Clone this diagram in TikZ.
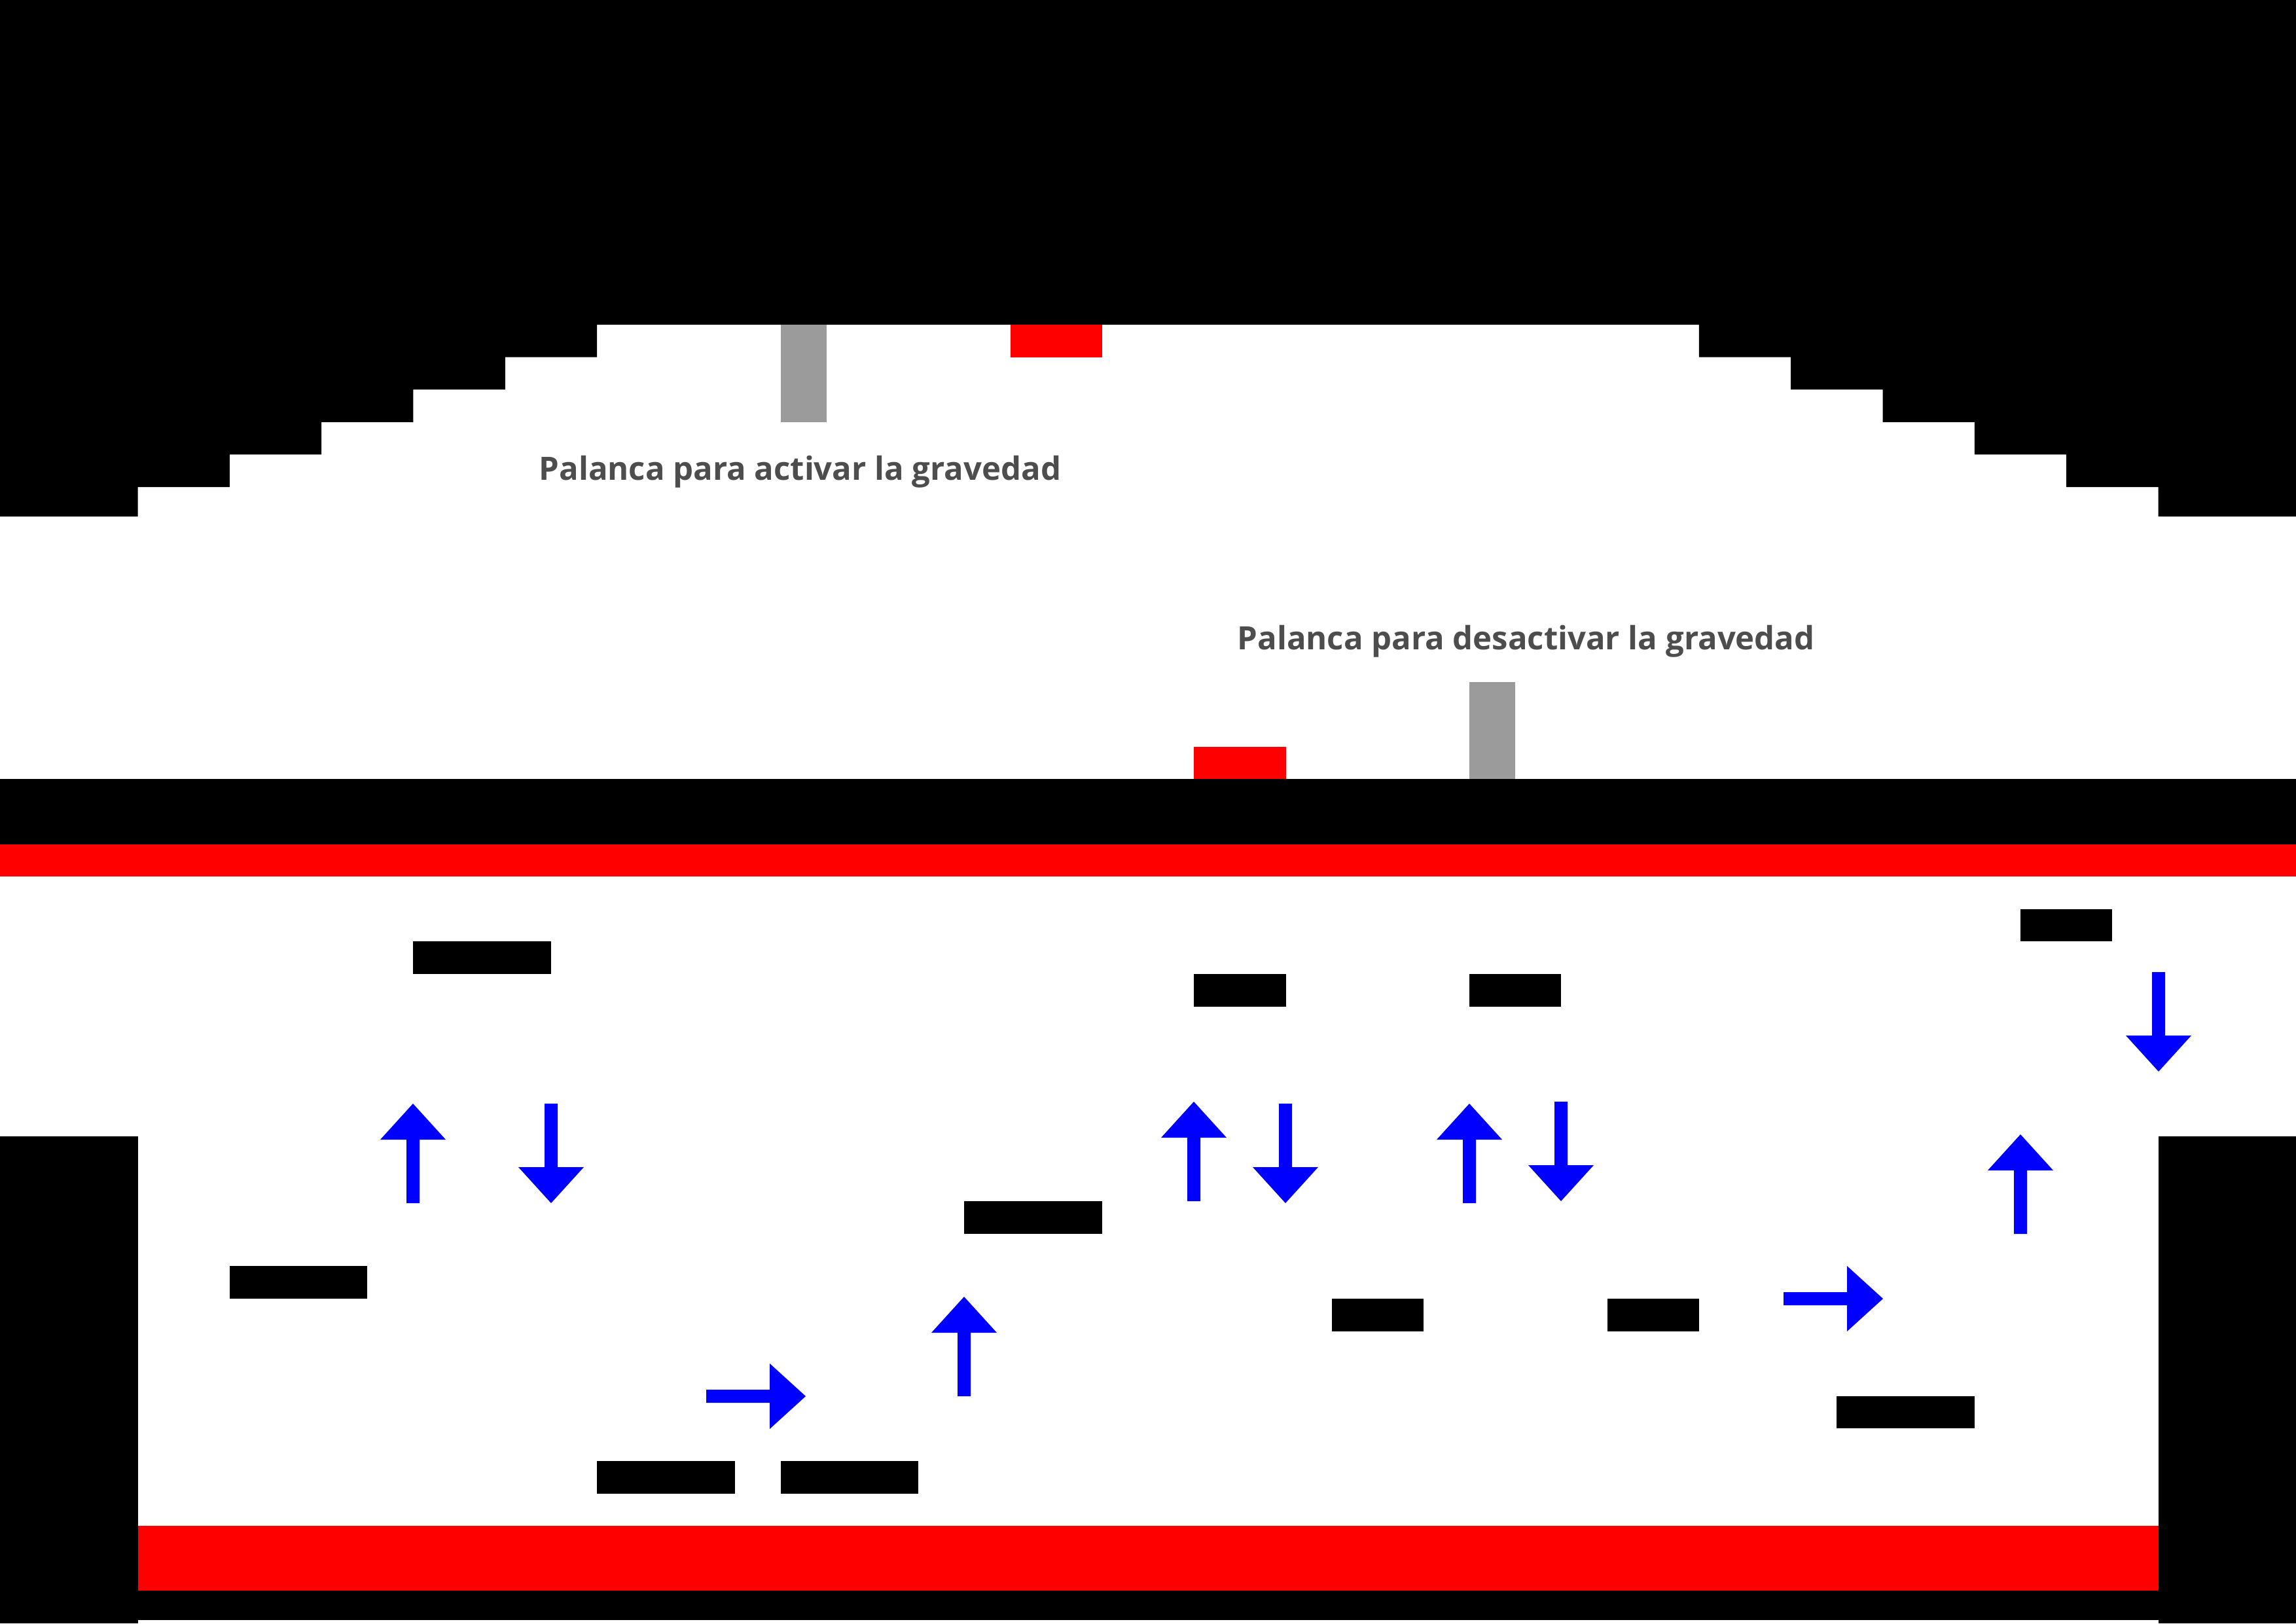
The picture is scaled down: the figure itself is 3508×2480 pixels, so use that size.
\documentclass[tikz,border=0pt]{standalone}
\usepackage{fontspec}
\newfontfamily\lblfont{Open Sans}
\definecolor{colLever}{HTML}{9B9B9B}
\definecolor{colText}{HTML}{4D4D4D}
\definecolor{colBlue}{HTML}{0000FF}
\definecolor{colRed}{HTML}{FF0000}
\tikzset{
  wallblk/.style={fill=black},
  lavablk/.style={fill=colRed},
  leverblk/.style={fill=colLever},
  platblk/.style={fill=black},
  lbltext/.style={font=\lblfont\bfseries\fontsize{13.95pt}{16pt}\selectfont, text=colText, inner sep=0pt, anchor=base west},
  garrow/.pic={\fill[colBlue] (0,-10) -- (97,-10) -- (97,-50) -- (152,0) -- (97,50) -- (97,10) -- (0,10) -- cycle;}
}
\begin{document}
\begin{tikzpicture}[x=0.01cm,y=0.01cm]
\useasboundingbox (0,0) rectangle (3508,-2480);
\fill[white] (0,0) rectangle (3508,-2480);
% top ceiling with stairs
\fill[wallblk] (0,0) -- (3508,0) -- (3508,-789) -- (3297.5,-789) -- (3297.5,-744) -- (3157.2,-744) -- (3157.2,-694.4) -- (3016.9,-694.4) -- (3016.9,-644.8) -- (2876.6,-644.8) -- (2876.6,-595.2) -- (2736.2,-595.2) -- (2736.2,-545.6) -- (2595.9,-545.6) -- (2595.9,-496) -- (912.1,-496) -- (912.1,-545.6) -- (771.8,-545.6) -- (771.8,-595.2) -- (631.4,-595.2) -- (631.4,-644.8) -- (491.1,-644.8) -- (491.1,-694.4) -- (350.8,-694.4) -- (350.8,-744) -- (210.5,-744) -- (210.5,-789) -- (0,-789) -- cycle;
% middle floor
\fill[wallblk] (0,-1190.4) rectangle (3508,-1289.6);
\fill[lavablk] (0,-1289.6) rectangle (3508,-1339.2);
% side walls
\fill[wallblk] (0,-1736) rectangle (210.5,-2480);
\fill[wallblk] (3297.5,-1736) rectangle (3508,-2480);
% bottom
\fill[lavablk] (210.5,-2331.2) rectangle (3297.5,-2430.4);
\fill[wallblk] (210.5,-2430.4) rectangle (3297.5,-2475);
% red blocks
\fill[lavablk] (1543.5,-496) rectangle (1683.8,-545.6);
\fill[lavablk] (1824.2,-1140.8) rectangle (1964.5,-1190.4);
% levers
\fill[leverblk] (1192.7,-496) rectangle (1262.9,-644.8);
\fill[leverblk] (2245.1,-1041.6) rectangle (2315.3,-1190.4);
% labels
\node[lbltext] (lblon) at (823,-733) {Palanca para activar la gravedad};
\node[lbltext] (lbloff) at (1890,-992) {Palanca para desactivar la gravedad};
% platforms
\fill[platblk] (631.4,-1438.4) rectangle (841.9,-1488);
\fill[platblk] (350.8,-1934.4) rectangle (561.3,-1984);
\fill[platblk] (912.1,-2232) rectangle (1122.6,-2281.6);
\fill[platblk] (1192.7,-2232) rectangle (1403.2,-2281.6);
\fill[platblk] (1473.4,-1835.2) rectangle (1683.8,-1884.8);
\fill[platblk] (1824.2,-1488) rectangle (1964.5,-1537.6);
\fill[platblk] (2245.1,-1488) rectangle (2385.4,-1537.6);
\fill[platblk] (2034.6,-1984) rectangle (2175,-2033.6);
\fill[platblk] (2455.6,-1984) rectangle (2595.9,-2033.6);
\fill[platblk] (2806.4,-2132.8) rectangle (3016.9,-2182.4);
\fill[platblk] (3087,-1388.8) rectangle (3227.4,-1438.4);
% arrows
\pic[rotate=90] at (631,-1838) {garrow};
\pic[rotate=-90] at (842,-1686) {garrow};
\pic at (1079,-2133) {garrow};
\pic[rotate=90] at (1473,-2133) {garrow};
\pic[rotate=90] at (1824,-1835) {garrow};
\pic[rotate=-90] at (1964,-1686) {garrow};
\pic[rotate=90] at (2245,-1838) {garrow};
\pic[rotate=-90] at (2385,-1683) {garrow};
\pic at (2725,-1984) {garrow};
\pic[rotate=90] at (3087,-1885) {garrow};
\pic[rotate=-90] at (3298,-1485) {garrow};
\end{tikzpicture}
\end{document}
